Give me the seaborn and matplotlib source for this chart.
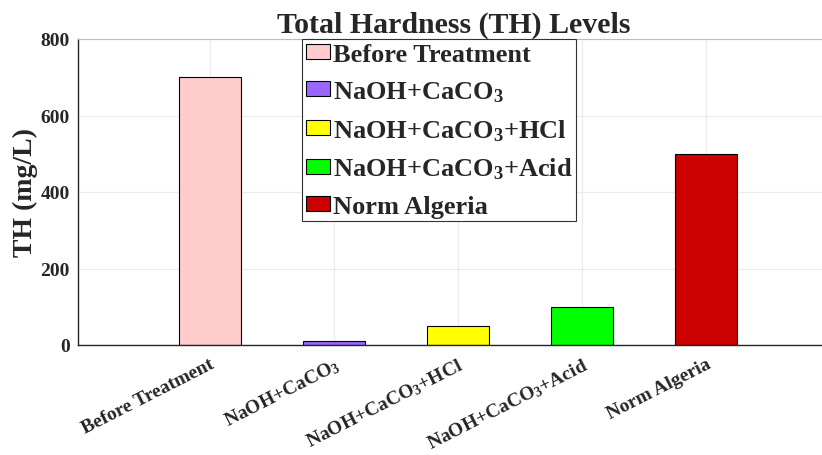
import matplotlib
matplotlib.use("Agg")
import matplotlib.pyplot as plt
import seaborn as sns
import pandas as pd

categories = ["Before Treatment", "NaOH+CaCO$_3$", "NaOH+CaCO$_3$+HCl",
              "NaOH+CaCO$_3$+Acid", "Norm Algeria"]
values = [700, 10, 50, 100, 500]
colors = ["#FFCCCC", "#9966FF", "#FFFF00", "#00FF00", "#CC0000"]
yticks = [0, 200, 400, 600, 800]

sns.set_style("white")
plt.rcParams["font.family"] = ["Liberation Serif", "DejaVu Serif"]
plt.rcParams["font.weight"] = "bold"
plt.rcParams["mathtext.fontset"] = "custom"
plt.rcParams["mathtext.rm"] = "Liberation Serif:bold"
plt.rcParams["mathtext.it"] = "Liberation Serif:bold"
plt.rcParams["mathtext.bf"] = "Liberation Serif:bold"
plt.rcParams["mathtext.default"] = "rm"

df = pd.DataFrame({"cat": categories, "val": values})

fig = plt.figure(figsize=(8.22, 4.56), dpi=100)
ax = fig.add_axes([78 / 822, 1 - 346 / 456, (822 - 78) / 822 + 0.01, (346 - 40) / 456])

sns.barplot(data=df, x="cat", y="val", hue="cat", palette=colors, dodge=False,
            width=0.5, edgecolor="black", linewidth=0.8, saturation=1,
            legend=True, ax=ax)

ax.set_xlim(-1.06, 5.0)
ax.set_ylim(0, 800)
ax.set_yticks(yticks)
ax.set_yticklabels([str(v) for v in yticks], fontsize=14, fontweight="bold")
ax.set_xticks(range(len(categories)))
ax.set_xticklabels(categories, rotation=27, ha="right", rotation_mode="anchor",
                   fontsize=14, fontweight="bold")
ax.grid(True, color="#ebebeb", linewidth=0.8)
ax.set_axisbelow(True)
ax.tick_params(axis="y", length=0, pad=6)
ax.tick_params(axis="x", length=0, pad=7)
for s in ["left", "bottom"]:
    ax.spines[s].set_color("#262626")
    ax.spines[s].set_linewidth(1.0)
for s in ["top", "right"]:
    ax.spines[s].set_color("#bbbbbb")
    ax.spines[s].set_linewidth(0.8)

ax.set_xlabel("")
ax.set_ylabel("TH (mg/L)", fontsize=20, fontweight="bold", labelpad=2)
ax.set_title("Total Hardness (TH) Levels", fontsize=21.5, fontweight="bold", pad=5)

leg = ax.legend(loc="upper left", bbox_to_anchor=((300 - 78) / 744, 1.0),
                fontsize=19, frameon=True, fancybox=False, framealpha=1,
                edgecolor="#333333", handlelength=0.9, handleheight=0.5,
                handletextpad=0.1, borderpad=0.15, labelspacing=0.5,
                borderaxespad=0.0)
leg.get_frame().set_linewidth(0.8)
for t in leg.get_texts():
    t.set_fontweight("bold")

fig.savefig("out.png", dpi=100)
